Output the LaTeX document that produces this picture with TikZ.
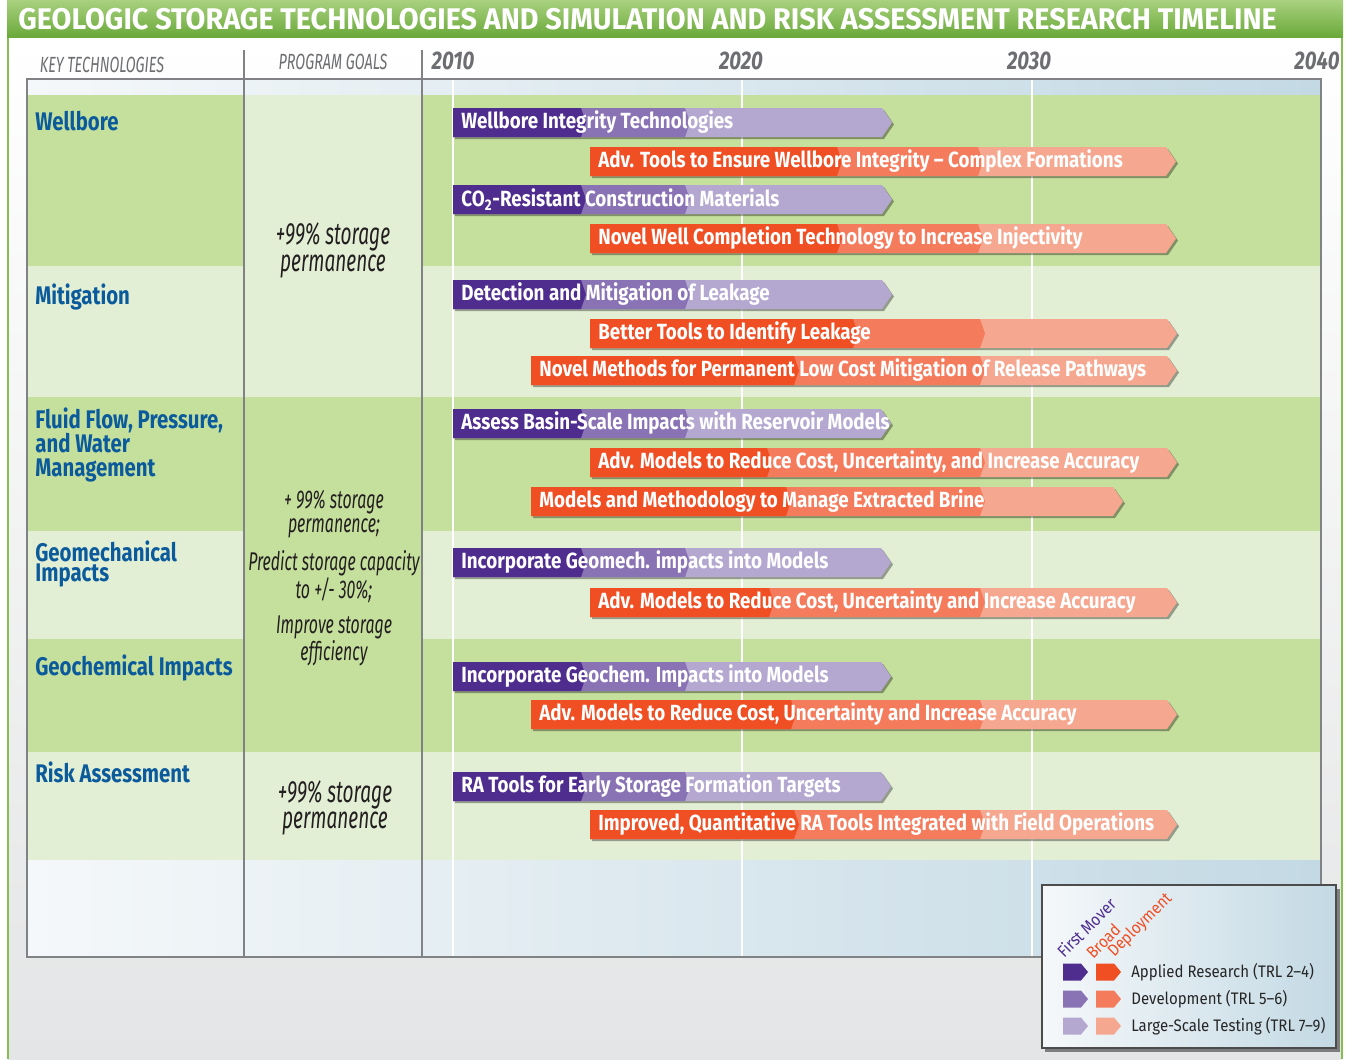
\documentclass[tikz,border=0pt]{standalone}
\usepackage{fontspec}
\setmainfont{Fira Sans}
\newfontfamily\titlefont[FakeStretch=0.963]{Fira Sans}
\newfontfamily\barfont[FakeStretch=0.855]{Fira Sans}
\newfontfamily\labelfont[FakeStretch=0.8]{Fira Sans}
\newfontfamily\goalfont[FakeStretch=0.62]{Fira Sans}
\newfontfamily\headfont[FakeStretch=0.655]{Fira Sans}
\newfontfamily\legendfont[FakeStretch=0.9]{Fira Sans}
\usepackage{xcolor}

\definecolor{titletop}{HTML}{A9D17F}
\definecolor{titlemid}{HTML}{78B546}
\definecolor{titlebot}{HTML}{6AA93A}
\definecolor{framegreen}{HTML}{86BF4F}
\definecolor{rowdark}{HTML}{C5DF9D}
\definecolor{rowlight}{HTML}{E3EFD5}
\definecolor{bandleft}{HTML}{F5F8FA}
\definecolor{bandright}{HTML}{C3D9E4}
\definecolor{pagegray}{HTML}{E4E5E6}
\definecolor{gridgray}{HTML}{808285}
\definecolor{techblue}{HTML}{0B5B9C}
\definecolor{goalblack}{HTML}{231F20}
\definecolor{headgray}{HTML}{6D6E71}
\definecolor{pudark}{HTML}{4F2D8F}
\definecolor{pumid}{HTML}{8A73B5}
\definecolor{pulight}{HTML}{B4A8D1}
\definecolor{ordark}{HTML}{F04E23}
\definecolor{ormid}{HTML}{F47C5D}
\definecolor{orlight}{HTML}{F6A78F}

\tikzset{
  bartext/.style={anchor=west, inner sep=0pt, text=white,
    font=\barfont\bfseries\fontsize{12.5}{13}\selectfont},
  barshadow/.style={fill=black, opacity=0.35},
  rowlabel/.style={anchor=west, inner sep=0pt, align=left, text=techblue},
  goaltext/.style={inner sep=0pt, align=center, text=goalblack},
  headtext/.style={inner sep=0pt, text=headgray,
    font=\headfont\itshape\fontsize{12.5}{13}\selectfont},
  yeartext/.style={inner sep=0pt, text=headgray,
    font=\labelfont\bfseries\itshape\fontsize{14.5}{15}\selectfont},
  legendtext/.style={anchor=west, inner sep=0pt, text=black!85,
    font=\legendfont\fontsize{9.5}{10}\selectfont},
  legendtitle/.style={anchor=base west, inner sep=0pt, rotate=45,
    font=\legendfont\fontsize{9.5}{10}\selectfont},
  gridline/.style={draw=gridgray, line width=1.1pt},
  yearline/.style={draw=white, line width=0.9pt}
}

% bar: name, top, left, dark end, mid end, tip, colour set, text
\newcommand{\techbar}[8]{%
  \fill[barshadow] ({#3+2},{#2+2}) -- ({#6-8},{#2+2}) -- ({#6+2},{#2+16.5})
    -- ({#6-8},{#2+31}) -- ({#3+2},{#2+31}) -- cycle;
  \fill[#7light] (#3,#2) -- ({#6-10},#2) -- (#6,{#2+14.5}) -- ({#6-10},{#2+29})
    -- (#3,{#2+29}) -- cycle;
  \fill[#7mid] (#3,#2) -- ({#5-5},#2) -- (#5,{#2+14.5}) -- ({#5-5},{#2+29})
    -- (#3,{#2+29}) -- cycle;
  \fill[#7dark] (#3,#2) -- ({#4-5},#2) -- (#4,{#2+14.5}) -- ({#4-5},{#2+29})
    -- (#3,{#2+29}) -- cycle;
  \node[bartext] (#1) at ({#3+8},{#2+14.5}) {#8};
}

% small legend arrow: left x, centre y, colour
\newcommand{\legendchip}[3]{%
  \fill[#3] (#1,{#2-8.5}) -- ({#1+18},{#2-8.5}) -- ({#1+25},#2)
    -- ({#1+18},{#2+8.5}) -- (#1,{#2+8.5}) -- cycle;
}

\begin{document}
\begin{tikzpicture}[x=0.02cm, y=-0.02cm]
    \useasboundingbox (0,0) rectangle (1349,1059);
    \fill[white] (0,0) rectangle (1349,1059);

    % Page background and green frame
    \shade[top color=white, bottom color=pagegray] (8,37) rectangle (1342,1059);
    \draw[framegreen, line width=1.2pt] (8,37) -- (8,1059);
    \draw[framegreen, line width=1.2pt] (1342,37) -- (1342,1059);

    % Title band
    \shade[top color=titletop, middle color=titlemid, bottom color=titlebot]
      (7,0) rectangle (1343,37);
    \node[anchor=west, inner sep=0pt, text=white,
      font=\titlefont\bfseries\fontsize{17}{18}\selectfont] (title) at (18,19)
      {GEOLOGIC STORAGE TECHNOLOGIES AND SIMULATION AND RISK ASSESSMENT RESEARCH TIMELINE};

    % Column headings and years
    \node[headtext] (keyhead) at (102,65) {KEY TECHNOLOGIES};
    \node[headtext] (goalhead) at (333,62) {PROGRAM GOALS};
    \node[yeartext] (y2010) at (453,61) {2010};
    \node[yeartext] (y2020) at (741,61) {2020};
    \node[yeartext] (y2030) at (1029,61) {2030};
    \node[yeartext] (y2040) at (1317,61) {2040};

    % Top and bottom bands
    \shade[left color=bandleft, right color=bandright] (27,79) rectangle (1321,95);
    \shade[left color=bandleft, right color=bandright] (27,860) rectangle (1321,957);

    % Rows
    \fill[rowdark] (27,95) rectangle (1321,266);
    \fill[rowlight] (27,266) rectangle (1321,397);
    \fill[rowdark] (27,397) rectangle (1321,531);
    \fill[rowlight] (27,531) rectangle (1321,639);
    \fill[rowdark] (27,639) rectangle (1321,752);
    \fill[rowlight] (27,752) rectangle (1321,860);

    % Goal column
    \fill[rowlight] (244,95) rectangle (422,397);
    \fill[rowdark] (244,397) rectangle (422,752);
    \fill[rowlight] (244,752) rectangle (422,860);

    % Year lines
    \foreach \xx in {453,742,1032}
      \draw[yearline] (\xx,79) -- (\xx,957);

    % Table frame and column lines
    \draw[gridline] (27,79) rectangle (1321,957);
    \draw[gridline] (244,50) -- (244,957);
    \draw[gridline] (422,50) -- (422,957);

    % Key technologies
    \node[rowlabel, font=\labelfont\bfseries\fontsize{14.5}{13.6}\selectfont]
      (wellbore) at (35,121) {Wellbore};
    \node[rowlabel, font=\labelfont\bfseries\fontsize{14.5}{13.6}\selectfont]
      (mitigation) at (35,297) {Mitigation};
    \node[rowlabel, font=\labelfont\bfseries\fontsize{14.5}{13.6}\selectfont]
      (fluidflow) at (35,445) {Fluid Flow, Pressure,\\and Water\\Management};
    \node[rowlabel, font=\labelfont\bfseries\fontsize{14.5}{11.9}\selectfont]
      (geomech) at (35,564) {Geomechanical\\Impacts};
    \node[rowlabel, font=\labelfont\bfseries\fontsize{14.5}{13.6}\selectfont]
      (geochem) at (35,668) {Geochemical Impacts};
    \node[rowlabel, font=\labelfont\bfseries\fontsize{14.5}{13.6}\selectfont]
      (riskassess) at (35,772) {Risk Assessment};

    % Program goals
    \node[goaltext, font=\goalfont\itshape\fontsize{17.5}{15.3}\selectfont]
      (goalone) at (333,250) {+99\% storage\\permanence};
    \node[goaltext, font=\goalfont\itshape\fontsize{14.6}{13.6}\selectfont]
      (goaltwo) at (334,578) {+ 99\% storage\\permanence;\\[6.2pt]
      Predict storage capacity\\to +/- 30\%;\\[6.2pt]Improve storage\\efficiency};
    \node[goaltext, font=\goalfont\itshape\fontsize{17.5}{14.7}\selectfont]
      (goalthree) at (335,808) {+99\% storage\\permanence};

    % Timeline bars
    \techbar{wellint}{108}{453}{586}{690}{892}{pu}{Wellbore Integrity Technologies}
    \techbar{advtools}{147}{590}{842}{983}{1176}{or}{Adv. Tools to Ensure Wellbore Integrity – Complex Formations}
    \techbar{coresist}{185}{453}{586}{690}{892}{pu}{CO\textsubscript{2}-Resistant Construction Materials}
    \techbar{wellcompl}{224}{590}{842}{983}{1176}{or}{Novel Well Completion Technology to Increase Injectivity}
    \techbar{detect}{280}{453}{586}{690}{892}{pu}{Detection and Mitigation of Leakage}
    \techbar{bettertools}{319}{590}{858}{985}{1177}{or}{Better Tools to Identify Leakage}
    \techbar{novelmeth}{356}{531}{799}{985}{1177}{or}{Novel Methods for Permanent Low Cost Mitigation of Release Pathways}
    \techbar{basinscale}{409}{453}{586}{690}{891}{pu}{Assess Basin-Scale Impacts with Reservoir Models}
    \techbar{advmodone}{448}{590}{772}{985}{1177}{or}{Adv. Models to Reduce Cost, Uncertainty, and Increase Accuracy}
    \techbar{brine}{487}{531}{791}{985}{1123}{or}{Models and Methodology to Manage Extracted Brine}
    \techbar{geomechmod}{548}{453}{586}{690}{891}{pu}{Incorporate Geomech. impacts into Models}
    \techbar{advmodtwo}{588}{590}{774}{985}{1177}{or}{Adv. Models to Reduce Cost, Uncertainty and Increase Accuracy}
    \techbar{geochemmod}{662}{453}{586}{690}{891}{pu}{Incorporate Geochem. Impacts into Models}
    \techbar{advmodthree}{700}{531}{796}{985}{1177}{or}{Adv. Models to Reduce Cost, Uncertainty and Increase Accuracy}
    \techbar{ratools}{772}{453}{586}{690}{891}{pu}{RA Tools for Early Storage Formation Targets}
    \techbar{improved}{810}{590}{799}{985}{1177}{or}{Improved, Quantitative RA Tools Integrated with Field Operations}

    % Legend
    \fill[black, opacity=0.45] (1045,889) rectangle (1340,1052);
    \shadedraw[left color=bandleft, right color=bandright, draw=black!70, line width=0.8pt]
      (1042,885) rectangle (1336,1048);
    \node[legendtitle, text=pudark] (firstmover) at (1064,959) {First Mover};
    \node[legendtitle, text=ordark] (broad) at (1093,960) {Broad};
    \node[legendtitle, text=ordark] (deploy) at (1114,958) {Deployment};
    \legendchip{1063}{972}{pudark}
    \legendchip{1096}{972}{ordark}
    \legendchip{1063}{999}{pumid}
    \legendchip{1096}{999}{ormid}
    \legendchip{1063}{1026}{pulight}
    \legendchip{1096}{1026}{orlight}
    \node[legendtext] (applied) at (1131,972) {Applied Research (TRL 2–4)};
    \node[legendtext] (develop) at (1131,999) {Development (TRL 5–6)};
    \node[legendtext] (largescale) at (1131,1026) {Large-Scale Testing (TRL 7–9)};
\end{tikzpicture}
\end{document}
